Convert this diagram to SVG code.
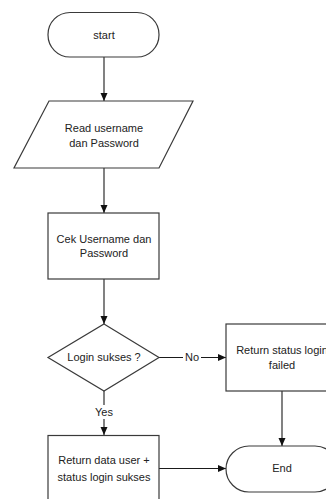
<svg xmlns="http://www.w3.org/2000/svg" width="326" height="499" viewBox="0 0 326 499">
<style>
.shape{fill:#fff;stroke:#3a3a3a;stroke-width:1.2}
.conn{fill:none;stroke:#1a1a1a;stroke-width:1.1}
text{font-family:"Liberation Sans",Arial,sans-serif;font-size:11px;fill:#222;text-anchor:middle}
.lbl{fill:#fff;stroke:none}
</style>
<defs>
<marker id="arr" markerWidth="8" markerHeight="8" refX="8" refY="3.5" orient="auto" markerUnits="userSpaceOnUse">
<path d="M0,0 L8,3.5 L0,7 z" fill="#111"/>
</marker>
</defs>
<rect width="326" height="499" fill="#fff"/>
<g id="connectors">
<line class="conn" x1="104" y1="57" x2="104" y2="101" marker-end="url(#arr)"/>
<line class="conn" x1="104" y1="168" x2="104" y2="213" marker-end="url(#arr)"/>
<line class="conn" x1="104" y1="279" x2="104" y2="324" marker-end="url(#arr)"/>
<line class="conn" x1="159" y1="357.5" x2="226" y2="357.5" marker-end="url(#arr)"/>
<rect class="lbl" x="183" y="351" width="18" height="13"/>
<text x="192" y="361">No</text>
<line class="conn" x1="104" y1="391" x2="104" y2="435" marker-end="url(#arr)"/>
<rect class="lbl" x="92" y="405" width="24" height="14"/>
<text x="104" y="416">Yes</text>
<line class="conn" x1="282" y1="391" x2="282" y2="446" marker-end="url(#arr)"/>
<line class="conn" x1="159" y1="468.5" x2="226" y2="468.5" marker-end="url(#arr)"/>
</g>
<g id="start">
<rect class="shape" x="48" y="12.5" width="111" height="44.5" rx="22" ry="22"/>
<text x="104" y="39">start</text>
</g>
<g id="read">
<polygon class="shape" points="49,101 193,101 159,168 14,168"/>
<text x="104" y="132">Read username</text>
<text x="104" y="147">dan Password</text>
</g>
<g id="cek">
<rect class="shape" x="48" y="213" width="111" height="66"/>
<text x="104" y="243">Cek Username dan</text>
<text x="104" y="257">Password</text>
</g>
<g id="decision">
<polygon class="shape" points="104,324 159,357.5 104,391 48,357.5"/>
<text x="104" y="361">Login sukses ?</text>
</g>
<g id="failed">
<rect class="shape" x="226" y="324" width="110" height="67"/>
<text x="282" y="354">Return status login</text>
<text x="282" y="369">failed</text>
</g>
<g id="sukses">
<rect class="shape" x="48" y="435.5" width="111" height="70"/>
<text x="104" y="464">Return data user +</text>
<text x="104" y="481">status login sukses</text>
</g>
<g id="end">
<rect class="shape" x="226" y="446" width="112" height="46" rx="23" ry="23"/>
<text x="282" y="472">End</text>
</g>
</svg>
